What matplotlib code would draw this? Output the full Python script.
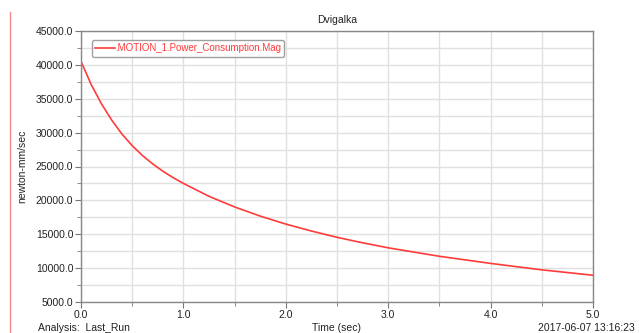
import matplotlib
matplotlib.use("Agg")
import matplotlib.pyplot as plt
from matplotlib.ticker import MultipleLocator, FormatStrFormatter
from matplotlib.lines import Line2D

plt.rcParams['font.family'] = ['Liberation Sans', 'DejaVu Sans']

# --- data ---
time_sec = [0.0, 0.1, 0.2, 0.3, 0.4, 0.5, 0.6, 0.7, 0.8, 0.9, 1.0,
            1.25, 1.5, 1.75, 2.0, 2.25, 2.5, 2.75, 3.0, 3.5, 4.0, 4.5, 5.0]
power_mag = [40500, 37070, 34240, 31840, 29780, 28070, 26620, 25380, 24300, 23350, 22500,
             20600, 19030, 17680, 16500, 15480, 14550, 13740, 13000, 11750, 10700, 9750, 8950]
series_name = '.MOTION_1.Power_Consumption.Mag'

fig = plt.figure(figsize=(6.39, 3.33), dpi=100)
ax = fig.add_axes([0.1268, 0.093, 0.8012, 0.814])

ax.plot(time_sec, power_mag, color='#ff3b3b', lw=1.2, label=series_name,
        solid_joinstyle='round')

ax.set_xlim(0, 5)
ax.set_ylim(5000, 45000)
ax.xaxis.set_major_locator(MultipleLocator(1.0))
ax.xaxis.set_minor_locator(MultipleLocator(0.5))
ax.yaxis.set_major_locator(MultipleLocator(5000))
ax.yaxis.set_minor_locator(MultipleLocator(2500))
ax.xaxis.set_major_formatter(FormatStrFormatter('%.1f'))
ax.yaxis.set_major_formatter(FormatStrFormatter('%.1f'))

ax.grid(True, which='both', color='#e0e0e0', lw=1.0)
ax.set_axisbelow(True)
ax.tick_params(which='both', direction='out', colors='#777777', labelcolor='#222222',
               labelsize=7.5, pad=1.5)
ax.tick_params(which='major', length=4)
ax.tick_params(which='minor', length=3)
for s in ax.spines.values():
    s.set_color('#888888')
    s.set_linewidth(1.0)

ax.set_title('Dvigalka', fontsize=7.5, color='#222222', pad=6)
ax.set_ylabel('newton-mm/sec', fontsize=7.5, color='#222222', labelpad=6)

leg = ax.legend(loc='upper left', bbox_to_anchor=(0.012, 0.985), fontsize=7,
                handlelength=2.0, handletextpad=0.0, borderpad=0.35,
                frameon=True, fancybox=True, edgecolor='#888888')
for t in leg.get_texts():
    t.set_color('#ff3b3b')

fig.text(0.06, 0.006, 'Analysis:  Last_Run', fontsize=7.5, color='#222222')
fig.text(0.527, 0.006, 'Time (sec)', fontsize=7.5, color='#222222', ha='center')
fig.text(0.994, 0.006, '2017-06-07 13:16:23', fontsize=7.5, color='#222222', ha='right')

fig.add_artist(Line2D([0.016, 0.016], [0.0, 0.965], transform=fig.transFigure,
                      color='#f08a8a', lw=1.0))

fig.savefig('out.png', dpi=100)
